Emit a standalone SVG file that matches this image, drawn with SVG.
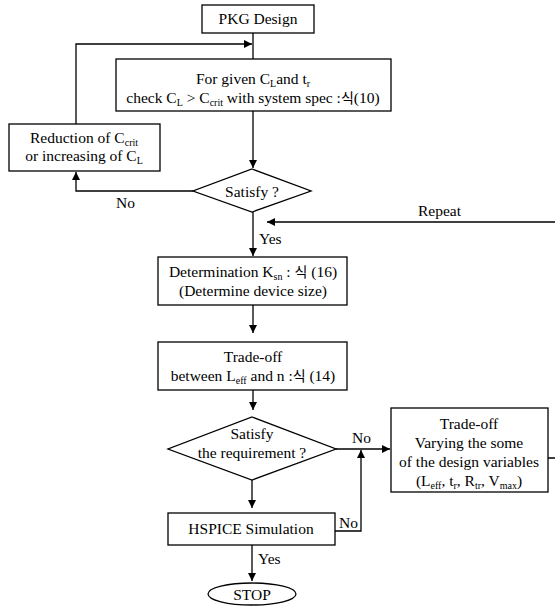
<svg xmlns="http://www.w3.org/2000/svg" width="555" height="606" viewBox="0 0 555 606">
<style>
.b{fill:#fff;stroke:#000;stroke-width:1.3}
.c{fill:none;stroke:#000;stroke-width:1.3}
.m{text-anchor:middle}
.s{font-size:10px}
</style>
<defs>
<marker id="a" viewBox="0 0 10 10" refX="10" refY="5" markerWidth="8" markerHeight="8" markerUnits="userSpaceOnUse" orient="auto">
<path d="M0,0 L10,5 L0,10 Z" fill="#000"/>
</marker>
</defs>
<rect width="555" height="606" fill="#fff"/>
<g font-family="Liberation Serif" font-size="15.5">
<g id="connectors">
<line class="c" x1="253" y1="33" x2="253" y2="59"/>
<polyline class="c" points="76,124 76,44 252,44" marker-end="url(#a)"/>
<line class="c" x1="253" y1="111" x2="253" y2="168" marker-end="url(#a)"/>
<polyline class="c" points="193,191 76,191 76,172" marker-end="url(#a)"/>
<line class="c" x1="253" y1="212" x2="253" y2="256" marker-end="url(#a)"/>
<polyline class="c" points="548,458 558,458 558,222 267,222" marker-end="url(#a)"/>
<line class="c" x1="253" y1="305" x2="253" y2="333" marker-end="url(#a)"/>
<line class="c" x1="253" y1="390" x2="253" y2="410" marker-end="url(#a)"/>
<line class="c" x1="336" y1="449" x2="390" y2="449" marker-end="url(#a)"/>
<line class="c" x1="252" y1="480" x2="252" y2="508" marker-end="url(#a)"/>
<polyline class="c" points="335,531 361,531 361,450" marker-end="url(#a)"/>
<line class="c" x1="252" y1="545" x2="252" y2="581" marker-end="url(#a)"/>
<text x="116" y="208">No</text>
<text x="418" y="216">Repeat</text>
<text x="259" y="244">Yes</text>
<text x="352" y="443">No</text>
<text x="339" y="528">No</text>
<text x="258" y="564">Yes</text>
</g>
<g id="pkg">
<rect class="b" x="202" y="5" width="112" height="28"/>
<text class="m" x="258" y="24">PKG Design</text>
</g>
<g id="check">
<rect class="b" x="116" y="59" width="275" height="52"/>
<text class="m" x="253" y="84">For given C<tspan class="s" dy="3">L</tspan><tspan dy="-3">and t</tspan><tspan class="s" dy="3">r</tspan></text>
<text class="m" x="253" y="103">check C<tspan class="s" dy="3">L</tspan><tspan dy="-3"> &gt; C</tspan><tspan class="s" dy="3">crit</tspan><tspan dy="-3"> with system spec :</tspan><tspan font-family="Noto Sans CJK KR, sans-serif" font-size="14">&#xC2DD;</tspan>(10)</text>
</g>
<g id="reduction">
<rect class="b" x="9" y="124" width="151" height="47"/>
<text class="m" x="84" y="143">Reduction of C<tspan class="s" dy="3">crit</tspan></text>
<text class="m" x="84" y="161">or increasing of C<tspan class="s" dy="3">L</tspan></text>
</g>
<g id="satisfy1">
<polygon class="b" points="252,169 311,191 252,212 193,191"/>
<text class="m" x="252" y="197">Satisfy ?</text>
</g>
<g id="determination">
<rect class="b" x="158" y="257" width="189" height="48"/>
<text class="m" x="253" y="277">Determination K<tspan class="s" dy="3">sn</tspan><tspan dy="-3"> : </tspan><tspan font-family="Noto Sans CJK KR, sans-serif" font-size="14">&#xC2DD;</tspan> (16)</text>
<text class="m" x="253" y="296">(Determine device size)</text>
</g>
<g id="tradeoff1">
<rect class="b" x="158" y="342" width="189" height="48"/>
<text class="m" x="253" y="362">Trade-off</text>
<text class="m" x="253" y="381">between L<tspan class="s" dy="3">eff</tspan><tspan dy="-3"> and n :</tspan><tspan font-family="Noto Sans CJK KR, sans-serif" font-size="14">&#xC2DD;</tspan> (14)</text>
</g>
<g id="satisfy2">
<polygon class="b" points="252,417 336,449 252,480 168,449"/>
<text class="m" x="252" y="439">Satisfy</text>
<text class="m" x="252" y="458">the requirement ?</text>
</g>
<g id="tradeoff2">
<rect class="b" x="391" y="408" width="157" height="84"/>
<text class="m" x="469" y="429">Trade-off</text>
<text class="m" x="469" y="448">Varying the some</text>
<text class="m" x="469" y="467">of the design variables</text>
<text class="m" x="469" y="486">(L<tspan class="s" dy="3">eff</tspan><tspan dy="-3">, t</tspan><tspan class="s" dy="3">r</tspan><tspan dy="-3">, R</tspan><tspan class="s" dy="3">tr</tspan><tspan dy="-3">, V</tspan><tspan class="s" dy="3">max</tspan><tspan dy="-3">)</tspan></text>
</g>
<g id="hspice">
<rect class="b" x="168" y="513" width="167" height="32"/>
<text class="m" x="251" y="534">HSPICE Simulation</text>
</g>
<g id="stop">
<ellipse class="b" cx="252" cy="594" rx="44" ry="11"/>
<text class="m" x="252" y="600">STOP</text>
</g>
</g>
</svg>
